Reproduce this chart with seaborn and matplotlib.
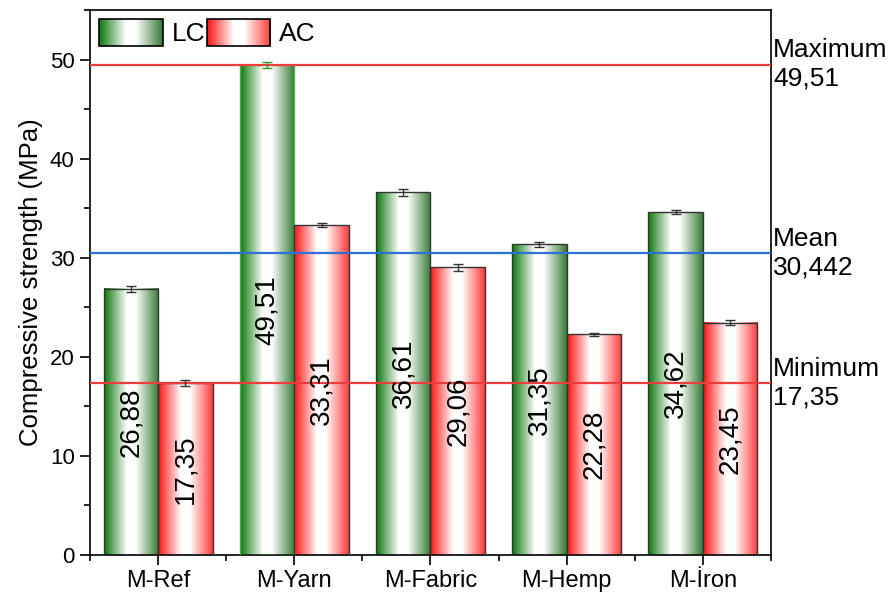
"""
Compressive strength of mortar samples (LC vs AC) with gradient bars,
error bars and max / mean / min reference lines.
"""

import numpy as np
import pandas as pd
import matplotlib
matplotlib.use("Agg")
import matplotlib.pyplot as plt
import matplotlib.ticker as mticker
import seaborn as sns
from matplotlib.colors import LinearSegmentedColormap
from matplotlib.legend_handler import HandlerBase
from matplotlib.image import BboxImage
from matplotlib.patches import Rectangle
from matplotlib.transforms import Bbox, TransformedBbox, blended_transform_factory

# -------------------------------------------------------
# Data
# -------------------------------------------------------
samples   = ["M-Ref", "M-Yarn", "M-Fabric", "M-Hemp", "M-İron"]
series    = ["LC", "AC"]
lc_values = [26.88, 49.51, 36.61, 31.35, 34.62]
ac_values = [17.35, 33.31, 29.06, 22.28, 23.45]
lc_err    = [0.30, 0.30, 0.35, 0.22, 0.22]
ac_err    = [0.30, 0.22, 0.35, 0.18, 0.28]

# -------------------------------------------------------
# Style
# -------------------------------------------------------
sns.set_theme(style="ticks")
plt.rcParams["font.family"] = ["Liberation Sans", "DejaVu Sans"]
plt.rcParams.update({
    "axes.edgecolor":  "black",
    "axes.linewidth":  1.2,
    "xtick.color":     "black",
    "ytick.color":     "black",
    "text.color":      "black",
    "axes.labelcolor": "black",
})

green_cmap = LinearSegmentedColormap.from_list(
    "lc", [(0.0, "#0a780a"), (0.42, "#ffffff"), (0.58, "#ffffff"), (1.0, "#357a35")])
red_cmap = LinearSegmentedColormap.from_list(
    "ac", [(0.0, "#ff1010"), (0.42, "#ffffff"), (0.58, "#ffffff"), (1.0, "#ff3a3a")])
cmaps = [green_cmap, red_cmap]
grad = np.linspace(0, 1, 256).reshape(1, -1)


def fmt(v):
    return f"{v:g}".replace(".", ",")


class GradientHandler(HandlerBase):
    """Legend handle drawn as a horizontal gradient box."""
    def __init__(self, cmap):
        super().__init__()
        self.cmap = cmap

    def create_artists(self, legend, orig_handle, xdescent, ydescent,
                       width, height, fontsize, trans):
        bb = TransformedBbox(Bbox.from_bounds(-xdescent, -ydescent, width, height), trans)
        img = BboxImage(bb, cmap=self.cmap, interpolation="bilinear")
        img.set_data(grad)
        frame = Rectangle((-xdescent, -ydescent), width, height, fill=False,
                          edgecolor="black", linewidth=1.2, transform=trans)
        return [img, frame]


# -------------------------------------------------------
# Figure
# -------------------------------------------------------
df = pd.DataFrame({
    "sample":   samples * 2,
    "strength": lc_values + ac_values,
    "type":     ["LC"] * len(samples) + ["AC"] * len(samples),
})

fig, ax = plt.subplots(figsize=(8.96, 5.99), dpi=100)
fig.subplots_adjust(left=0.1004, right=0.8605, bottom=0.0735, top=0.983)

sns.barplot(data=df, x="sample", y="strength", hue="type",
            order=samples, hue_order=series, errorbar=None,
            width=0.8, gap=0, edgecolor="#333333", linewidth=1.0,
            legend=False, ax=ax)

values = [lc_values, ac_values]
errors = [lc_err, ac_err]
bar_containers = list(ax.containers)
for i, container in enumerate(bar_containers):
    for j, p in enumerate(container.patches):
        x, y = p.get_x(), p.get_y()
        w, h = p.get_width(), p.get_height()
        ax.imshow(grad, extent=[x, x + w, y, y + h], cmap=cmaps[i],
                  aspect="auto", interpolation="bilinear", zorder=2)
        p.set_facecolor("none")
        p.set_zorder(3)
        ecol = "#333333"
        if i == 0 and j == 1:
            p.set_edgecolor("#4caf50")
            ecol = "#2e9a2e"
        ax.errorbar(x + w / 2, values[i][j], yerr=errors[i][j], fmt="none",
                    ecolor=ecol, elinewidth=1.0, capsize=3.5, capthick=1.0,
                    zorder=6)
    ax.bar_label(container, labels=[fmt(v) for v in values[i]],
                 label_type="center", rotation=90, fontsize=20, zorder=7)

# reference lines
all_vals = lc_values + ac_values
ref_lines = [("Maximum", max(all_vals), "#ee3b3b"),
             ("Mean", round(float(np.mean(all_vals)), 3), "#2f6fd8"),
             ("Minimum", min(all_vals), "#ee3b3b")]
trans = blended_transform_factory(ax.transAxes, ax.transData)
for name, val, col in ref_lines:
    ax.axhline(val, color=col, linewidth=1.6, zorder=5)
    ax.text(1.003, val, f"{name}\n{fmt(val)}", transform=trans,
            ha="left", va="center", fontsize=19, linespacing=1.25,
            clip_on=False)

# axes
ax.set_xlim(-0.5, 4.5)
ax.set_ylim(0, 55)
ax.set_xlabel("")
ax.set_ylabel("Compressive strength (MPa)", fontsize=18.5, labelpad=5)
ax.yaxis.set_major_locator(mticker.MultipleLocator(10))
ax.yaxis.set_minor_locator(mticker.MultipleLocator(5))
ax.xaxis.set_minor_locator(mticker.FixedLocator(np.arange(-0.5, 5.0, 1.0)))
ax.tick_params(axis="both", which="major", direction="out", length=7.5,
               width=1.2, labelsize=16)
ax.tick_params(axis="x", which="major", labelsize=17)
ax.tick_params(axis="both", which="minor", direction="out", length=4, width=1.2)
ax.tick_params(top=False, right=False, which="both")
for s in ax.spines.values():
    s.set_visible(True)
    s.set_linewidth(1.2)
    s.set_color("black")

# legend with gradient handles
h_lc = Rectangle((0, 0), 1, 1)
h_ac = Rectangle((0, 0), 1, 1)
ax.legend([h_lc, h_ac], series,
          handler_map={h_lc: GradientHandler(green_cmap), h_ac: GradientHandler(red_cmap)},
          loc="upper left", bbox_to_anchor=(0.0, 1.0), ncol=2, frameon=False,
          fontsize=19, handlelength=2.4, handleheight=1.15, handletextpad=0.35,
          columnspacing=0.05, borderaxespad=0.15, borderpad=0.2)

fig.savefig("out.png", dpi=100)
plt.close()
